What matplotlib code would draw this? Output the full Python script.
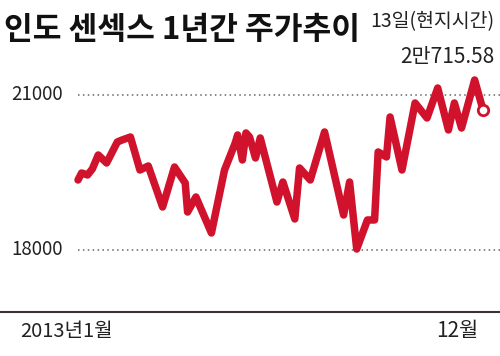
import matplotlib
matplotlib.use("Agg")
import matplotlib.pyplot as plt
from matplotlib import font_manager

names = {f.name for f in font_manager.fontManager.ttflist}
num_family = ['Liberation Sans Narrow', 'Noto Sans CJK KR'] if 'Liberation Sans Narrow' in names else ['Noto Sans CJK KR', 'DejaVu Sans']
plt.rcParams['font.family'] = ['Noto Sans CJK KR', 'DejaVu Sans']

# Trading day offset from start of 2013 (approx.)
days = [0, 3, 8, 12, 17, 24, 33, 37, 44, 52, 59, 71, 81, 90, 92, 99, 112, 123,
        132, 134, 138, 141, 144, 149, 153, 167, 172, 182, 186, 195, 207, 223,
        228, 234, 243, 249, 252, 259, 262, 272, 283, 293, 302, 311, 316, 322,
        333, 340]
values = [19355, 19490, 19452, 19568, 19839, 19684, 20090, 20129, 20187, 19548,
          19626, 18832, 19606, 19297, 18735, 19026, 18329, 19548, 20071, 20226,
          19742, 20265, 20187, 19781, 20168, 18929, 19316, 18600, 19587, 19355,
          20284, 18677, 19316, 18019, 18581, 18581, 19897, 19800, 20574, 19548,
          20845, 20555, 21135, 20323, 20845, 20361, 21290, 20715.58]
yticks = [18000, 21000]
ytick_labels = ['18000', '21000']
title = '인도 센섹스 1년간 주가추이'
note1 = '13일(현지시간)'
note2 = '2만715.58'
xlabel_left = '2013년1월'
xlabel_right = '12월'

red = '#d0122c'

fig = plt.figure(figsize=(5, 3.56), dpi=100)
ax = fig.add_axes([0, 44/356, 1, 252/356])
ax.set_xlim(-65.5, 354.3)
ax.set_ylim(16800, 21677)
ax.axis('off')

for yv in yticks:
    ax.axhline(yv, xmin=78/500, xmax=1, color='#666666', lw=1.1,
               linestyle=(0, (1, 2.2)), zorder=1)

ax.plot(days, values, color=red, lw=5.4, solid_joinstyle='round',
        solid_capstyle='round', zorder=3)
ax.plot(days[-1], values[-1], 'o', ms=7.5, mfc='white', mec=red, mew=2, zorder=4)

for yv, lab in zip(yticks, ytick_labels):
    ax.text(-56, yv, lab, ha='left', va='center', fontsize=13.5,
            family=num_family, color='#222222')

fig.add_artist(plt.Line2D([0, 1], [(356-312)/356]*2, color='#3a3232', lw=1.5,
                          transform=fig.transFigure))

fig.text(4/500, 1-30/356, title, ha='left', va='center', fontsize=22.5,
         fontweight='heavy', color='#111111')
fig.text(494/500, 1-22/356, note1, ha='right', va='center', fontsize=14,
         family=num_family, color='#222222')
fig.text(494/500, 1-57/356, note2, ha='right', va='center', fontsize=15,
         family=num_family, color='#222222')
fig.text(20/500, 1-331/356, xlabel_left, ha='left', va='center', fontsize=14.5,
         family=num_family, color='#222222')
fig.text(478/500, 1-331/356, xlabel_right, ha='right', va='center', fontsize=15,
         family=num_family, color='#222222')

fig.savefig('out.png', dpi=100)
